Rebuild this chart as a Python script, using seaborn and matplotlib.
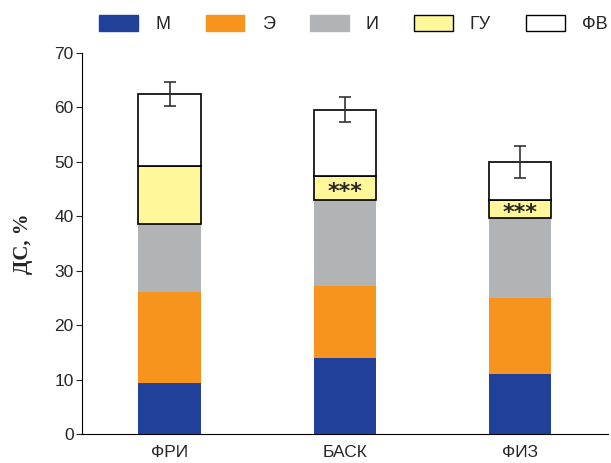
import pandas as pd
import seaborn as sns
import matplotlib.pyplot as plt
from matplotlib.patches import Patch

# values
groups = ['ФРИ', 'БАСК', 'ФИЗ']
m_vals = [9.4, 14.0, 11.0]
e_vals = [16.7, 13.1, 14.0]
i_vals = [12.5, 15.9, 14.7]
gu_vals = [10.7, 4.4, 3.3]
fv_vals = [13.2, 12.2, 6.9]
fv_err = [2.25, 2.25, 2.95]
stars = ['', '***', '***']

layers = ['М', 'Э', 'И', 'ГУ', 'ФВ']
colors = ['#21409a', '#f7941e', '#b2b3b5', '#fff799', '#ffffff']
edges = [None, None, None, 'black', 'black']

df = pd.DataFrame({'group': groups, 'М': m_vals, 'Э': e_vals, 'И': i_vals,
                   'ГУ': gu_vals, 'ФВ': fv_vals})

sns.set_style('white')
plt.rcParams['font.family'] = ['Liberation Sans', 'DejaVu Sans']

fig = plt.figure(figsize=(6.11, 4.63), dpi=100)
ax = fig.add_axes([0.134, 0.0626, 0.861, 0.823])

bottom = [0.0] * len(groups)
for name, col, ec in zip(layers, colors, edges):
    kw = dict(edgecolor=ec, linewidth=1.2) if ec else dict(linewidth=0)
    sns.barplot(data=df, x='group', y=name, color=col, saturation=1,
                width=0.355, bottom=bottom, errorbar=None, ax=ax, **kw)
    bottom = [b + v for b, v in zip(bottom, df[name])]

# error bars on the totals
ax.errorbar(range(len(groups)), bottom, yerr=fv_err, fmt='none',
            ecolor='#333333', elinewidth=1.2, capsize=4, capthick=1.2, zorder=5)

# significance marks inside the ГУ segment
base_gu = [m + e + i for m, e, i in zip(m_vals, e_vals, i_vals)]
for k, s in enumerate(stars):
    if s:
        mid = base_gu[k] + gu_vals[k] / 2
        ax.annotate(s, (k, mid), xytext=(0, -7), textcoords='offset points',
                    ha='center', va='baseline', fontsize=16,
                    fontweight='bold', family='DejaVu Sans', zorder=6)

ax.set_xlim(-0.5, 2.5)
ax.set_ylim(0, 70)
ax.set_yticks(range(0, 71, 10))
ax.set_xticks([-0.5, 0.5, 1.5, 2.5], minor=True)
ax.tick_params(axis='x', which='major', length=0, labelsize=12.5, pad=8)
ax.tick_params(axis='x', which='minor', length=9, direction='inout', width=0.8)
ax.tick_params(axis='y', length=4, direction='out', width=0.8, labelsize=12.5, pad=2,
               left=True)
ax.set_xlabel('')
ax.set_ylabel('ДС, %', fontsize=15, fontweight='bold',
              family=['Liberation Serif', 'DejaVu Serif'], labelpad=15)
for side in ['top', 'right']:
    ax.spines[side].set_visible(False)
for side in ['left', 'bottom']:
    ax.spines[side].set_color('black')
    ax.spines[side].set_linewidth(0.8)

handles = [Patch(facecolor=c, edgecolor=(e if e else c), linewidth=1.0, label=n)
           for n, c, e in zip(layers, colors, edges)]
fig.legend(handles=handles, ncol=5, loc='upper left', bbox_to_anchor=(0.142, 0.995),
           frameon=False, fontsize=13, handlelength=2.15, handleheight=1.0,
           handletextpad=0.95, columnspacing=1.95, borderaxespad=0.3)

fig.savefig('out.png', dpi=100)
